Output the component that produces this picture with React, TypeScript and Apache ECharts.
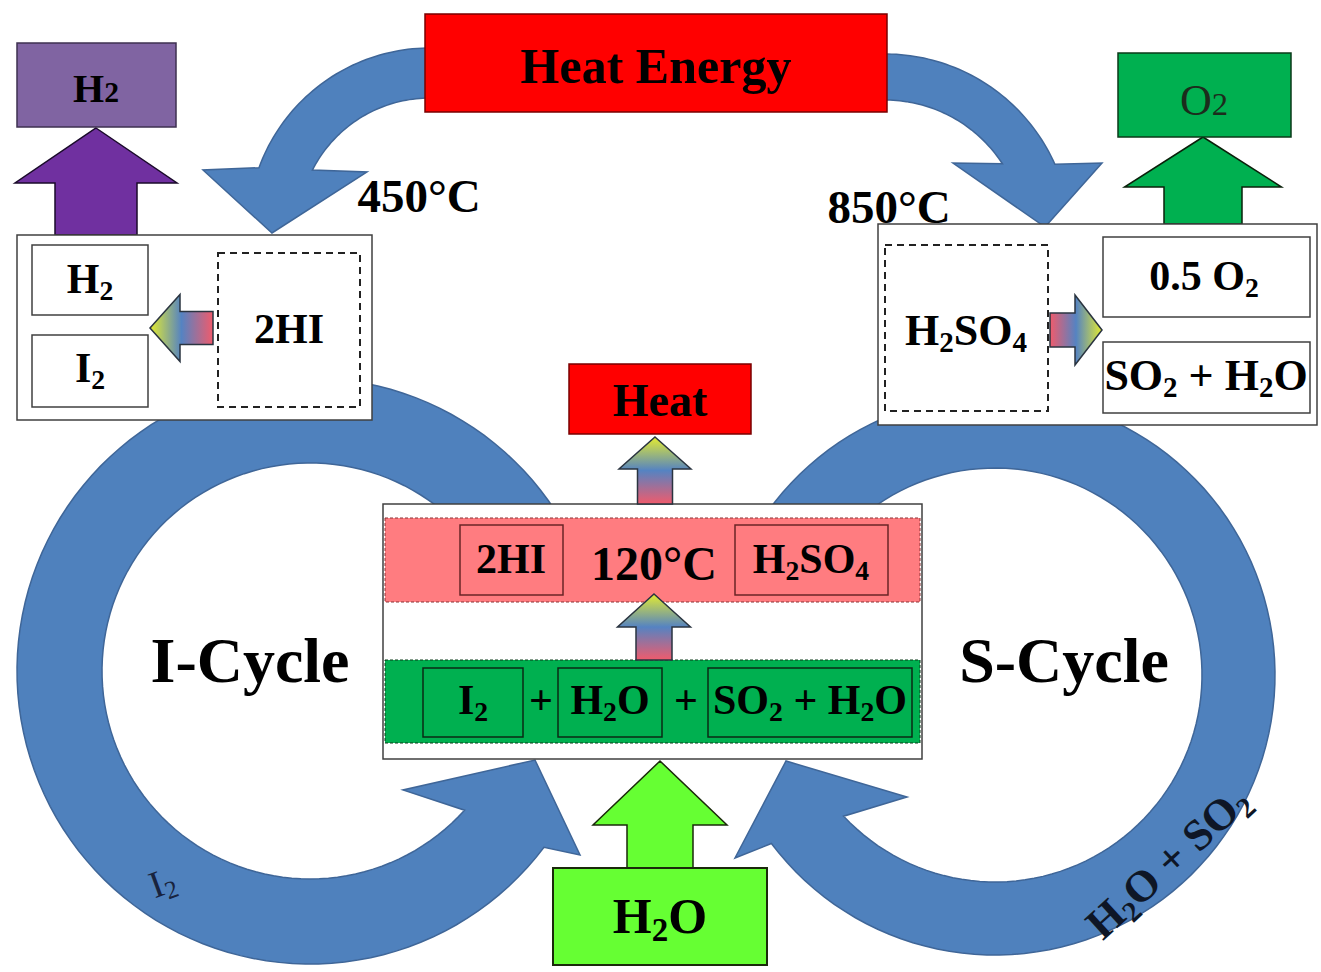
import React, { useEffect, useRef } from "react";
import * as echarts from "echarts";

// ---------- text content ----------
const heatLabels = ["Heat Energy", "Heat"];
const tempLabels = ["450°C", "850°C", "120°C"];
const productLabels = ["H~2", "O~2"];
const iDecompLabels = ["H_2", "I_2", "2HI"];
const sDecompLabels = ["H_2SO_4", "0.5 O_2", "SO_2 + H_2O"];
const bunsenProducts = ["2HI", "H_2SO_4"];
const bunsenReactants = ["I_2", "+", "H_2O", "+", "SO_2 + H_2O"];
const cycleLabels = ["I-Cycle", "S-Cycle"];
const recycleLabels = ["I_2", "H_2O + SO_2"];
const feedLabels = ["H_2O"];

// ---------- colours ----------
const SERIF = '"Liberation Serif", "Times New Roman", serif';
const BLUE = "#4F81BD";
const BLUE_EDGE = "#3F6698";
const RED = "#FF0000";
const PURPLE_BOX = "#8064A2";
const PURPLE_ARROW = "#7030A0";
const GREEN = "#00B050";
const LIME = "#66FF33";
const PINK = "#FF7C80";

let measureCtx: CanvasRenderingContext2D | null = null;
function textWidth(t: string, size: number, weight: string) {
  if (!measureCtx) measureCtx = document.createElement("canvas").getContext("2d");
  measureCtx!.font = `${weight} ${size}px ${SERIF}`;
  return measureCtx!.measureText(t).width;
}

// "_x" => subscript, "~x" => small on baseline
function formula(
  src: string,
  cx: number,
  cy: number,
  size: number,
  o: { weight?: string; color?: string; rotation?: number } = {}
) {
  const weight = o.weight ?? "bold";
  const color = o.color ?? "#000";
  const frags: { t: string; k: string }[] = [];
  let buf = "";
  for (let i = 0; i < src.length; i++) {
    const c = src[i];
    if ((c === "_" || c === "~") && i + 1 < src.length) {
      if (buf) { frags.push({ t: buf, k: "n" }); buf = ""; }
      frags.push({ t: src[i + 1], k: c });
      i++;
    } else buf += c;
  }
  if (buf) frags.push({ t: buf, k: "n" });
  const items = frags.map((f) => {
    const s = f.k === "n" ? size : f.k === "_" ? size * 0.66 : size * 0.74;
    return { ...f, s, w: textWidth(f.t, s, weight) };
  });
  const total = items.reduce((a, b) => a + b.w, 0);
  let x = -total / 2;
  const children: any[] = [];
  items.forEach((f) => {
    const trimmed = f.t.replace(/^\s+/, "");
    const lead = f.t.length - trimmed.length;
    const leadW = lead ? textWidth(" ".repeat(lead), f.s, weight) : 0;
    const dy = f.k === "_" ? size * 0.27 : f.k === "~" ? size * 0.09 : 0;
    if (trimmed.trim().length) {
      children.push({
        type: "text",
        x: x + leadW,
        y: dy,
        silent: true,
        style: {
          text: trimmed.replace(/\s+$/, ""),
          fill: color,
          fontSize: f.s,
          fontWeight: weight,
          fontFamily: SERIF,
          align: "left",
          verticalAlign: "middle",
          textAlign: "left",
          textVerticalAlign: "middle",
        },
      });
    }
    x += f.w;
  });
  return { type: "group", x: cx, y: cy, rotation: o.rotation ?? 0, children };
}

function arc(cx: number, cy: number, r: number, a0: number, a1: number, n = 60) {
  const pts: number[][] = [];
  for (let i = 0; i <= n; i++) {
    const a = ((a0 + ((a1 - a0) * i) / n) * Math.PI) / 180;
    pts.push([cx + r * Math.cos(a), cy + r * Math.sin(a)]);
  }
  return pts;
}

function box(x1: number, y1: number, x2: number, y2: number, fill: any, stroke: string, lw = 1.5, dash?: number[]) {
  return {
    type: "rect",
    silent: true,
    shape: { x: x1, y: y1, width: x2 - x1, height: y2 - y1 },
    style: { fill, stroke, lineWidth: lw, lineDash: dash },
  };
}

function poly(points: number[][], fill: any, stroke: string, lw = 1.5) {
  return { type: "polygon", silent: true, shape: { points }, style: { fill, stroke, lineWidth: lw } };
}

function upArrow(tipX: number, tipY: number, headW: number, headH: number, shaftW: number, bottom: number) {
  return [
    [tipX, tipY],
    [tipX + headW / 2, tipY + headH],
    [tipX + shaftW / 2, tipY + headH],
    [tipX + shaftW / 2, bottom],
    [tipX - shaftW / 2, bottom],
    [tipX - shaftW / 2, tipY + headH],
    [tipX - headW / 2, tipY + headH],
  ];
}

function sideArrow(tipX: number, tipY: number, headW: number, headL: number, shaftW: number, end: number) {
  const d = end > tipX ? 1 : -1;
  return [
    [tipX, tipY],
    [tipX + d * headL, tipY - headW / 2],
    [tipX + d * headL, tipY - shaftW / 2],
    [end, tipY - shaftW / 2],
    [end, tipY + shaftW / 2],
    [tipX + d * headL, tipY + shaftW / 2],
    [tipX + d * headL, tipY + headW / 2],
  ];
}

const YEL = "#E4EC30";
const MIDB = "#5583C2";
const PNK = "#F05B6C";
const gradV = () =>
  new echarts.graphic.LinearGradient(0, 0, 0, 1, [
    { offset: 0, color: YEL },
    { offset: 0.5, color: MIDB },
    { offset: 1, color: PNK },
  ]);
const gradH = (tipLeft: boolean) =>
  new echarts.graphic.LinearGradient(0, 0, 1, 0, [
    { offset: 0, color: tipLeft ? YEL : PNK },
    { offset: 0.5, color: MIDB },
    { offset: 1, color: tipLeft ? PNK : YEL },
  ]);

function buildElements() {
  const els: any[] = [];
  const t = (s: string, x: number, y: number, size: number, o: any = {}) => els.push(formula(s, x, y, size, o));

  // top curved arrows from Heat Energy
  els.push(
    poly(
      [...arc(430, 230, 182, -85, -160, 50), [203, 170], [272, 233], [367, 172], ...arc(430, 230, 132, -153, -80, 50)],
      BLUE,
      BLUE_EDGE
    )
  );
  els.push(
    poly(
      [...arc(885, 240, 186, -95, -24, 50), [1102, 163], [1045, 227], [953, 163], ...arc(885, 240, 140, -33, -100, 50)],
      BLUE,
      BLUE_EDGE
    )
  );

  // big cycle rings
  els.push(
    poly(
      [...arc(310, 671, 293, 37, 345, 120), ...arc(310, 671, 208, 345, 42, 120), [403, 790], [535, 760], [580, 855]],
      BLUE,
      BLUE_EDGE
    )
  );
  els.push(
    poly(
      [...arc(995, 675, 280, 195, 503, 120), [735, 858], [786, 761], [907, 797], ...arc(995, 675, 207, 497, 195, 120)],
      BLUE,
      BLUE_EDGE
    )
  );

  // Heat Energy
  els.push(box(425, 14, 887, 112, RED, "#7A0000", 1.5));
  t(heatLabels[0], 656, 66, 50);

  // H2 product (purple)
  els.push(poly(upArrow(96, 128, 162, 55, 82, 235), PURPLE_ARROW, "#1A0A2A", 1.5));
  els.push(box(17, 43, 176, 127, PURPLE_BOX, "#3E3050", 1.5));
  t(productLabels[0], 96, 88, 40);

  // O2 product (green)
  els.push(poly(upArrow(1203, 137, 157, 50, 78, 224), GREEN, "#0A200A", 1.5));
  els.push(box(1118, 53, 1291, 137, GREEN, "#0A3A18", 1.5));
  t(productLabels[1], 1204, 100, 44, { weight: "normal", color: "#1C2C1C" });

  // HI decomposition box
  els.push(box(17, 235, 372, 420, "#FFFFFF", "#404040", 1.5));
  els.push(box(32, 245, 148, 315, "#FFFFFF", "#404040", 1.5));
  els.push(box(32, 335, 148, 407, "#FFFFFF", "#404040", 1.5));
  els.push(box(218, 253, 360, 407, "#FFFFFF", "#222", 2, [7, 5]));
  els.push(poly(sideArrow(150, 328, 67, 30, 33, 213), gradH(true), "#2A3440", 1.5));
  t(iDecompLabels[0], 90, 279, 42);
  t(iDecompLabels[1], 90, 368, 42);
  t(iDecompLabels[2], 289, 329, 42);

  // H2SO4 decomposition box
  els.push(box(878, 224, 1317, 425, "#FFFFFF", "#404040", 1.5));
  els.push(box(885, 245, 1048, 411, "#FFFFFF", "#222", 2, [7, 5]));
  els.push(box(1103, 237, 1310, 317, "#FFFFFF", "#404040", 1.5));
  els.push(box(1103, 342, 1310, 413, "#FFFFFF", "#404040", 1.5));
  els.push(poly(sideArrow(1102, 330, 70, 27, 34, 1050), gradH(false), "#2A3440", 1.5));
  t(sDecompLabels[0], 966, 330, 44);
  t(sDecompLabels[1], 1204, 276, 42);
  t(sDecompLabels[2], 1206, 375, 44);

  // temperatures
  t(tempLabels[0], 419, 196, 47);
  t(tempLabels[1], 889, 207, 47);

  // Bunsen reaction box
  els.push(box(383, 504, 922, 759, "#FFFFFF", "#404040", 1.5));
  els.push(box(385, 518, 920, 602, PINK, "#8A3034", 1, [3, 2]));
  els.push(box(385, 660, 920, 743, GREEN, "#0A3A18", 1, [3, 2]));
  els.push(box(460, 525, 563, 595, "none", "#6A2426", 1.5));
  els.push(box(735, 525, 888, 595, "none", "#6A2426", 1.5));
  t(bunsenProducts[0], 511, 559, 42);
  t(tempLabels[2], 654, 563, 48);
  t(bunsenProducts[1], 811, 559, 42);
  els.push(box(423, 668, 523, 737, "none", "#0A2A14", 1.5));
  els.push(box(558, 668, 662, 737, "none", "#0A2A14", 1.5));
  els.push(box(708, 668, 912, 737, "none", "#0A2A14", 1.5));
  t(bunsenReactants[0], 473, 700, 42);
  t(bunsenReactants[1], 541, 700, 42);
  t(bunsenReactants[2], 610, 700, 42);
  t(bunsenReactants[3], 686, 700, 42);
  t(bunsenReactants[4], 810, 700, 42);

  // heat release
  els.push(poly(upArrow(655, 437, 72, 32, 35, 504), gradV(), "#2A3440", 1.5));
  els.push(box(569, 364, 751, 434, RED, "#7A0000", 1.5));
  t(heatLabels[1], 660, 400, 46);

  // inner arrow between bands
  els.push(poly(upArrow(654, 594, 73, 33, 36, 660), gradV(), "#2A3440", 1.5));

  // water feed
  els.push(poly(upArrow(660, 761, 134, 64, 66, 868), LIME, "#1A2A0A", 1.5));
  els.push(box(553, 868, 767, 965, LIME, "#1A2A0A", 2));
  t(feedLabels[0], 660, 916, 50);

  // cycle names
  t(cycleLabels[0], 250, 660, 64);
  t(cycleLabels[1], 1064, 660, 64);

  // recycle labels on the rings
  t(recycleLabels[0], 162, 882, 38, { weight: "normal", color: "#18233E", rotation: 0.35 });
  t(recycleLabels[1], 1168, 862, 44, { color: "#0E1626", rotation: 0.74 });

  return els;
}

export default function App() {
  const ref = useRef<HTMLDivElement>(null);
  useEffect(() => {
    document.body.style.margin = "0";
    const chart = echarts.init(ref.current!, null, { renderer: "svg" });
    chart.setOption({
      animation: false,
      backgroundColor: "#FFFFFF",
      graphic: { elements: buildElements() },
    });
    return () => chart.dispose();
  }, []);
  return <div ref={ref} style={{ width: 1321, height: 972 }} />;
}
